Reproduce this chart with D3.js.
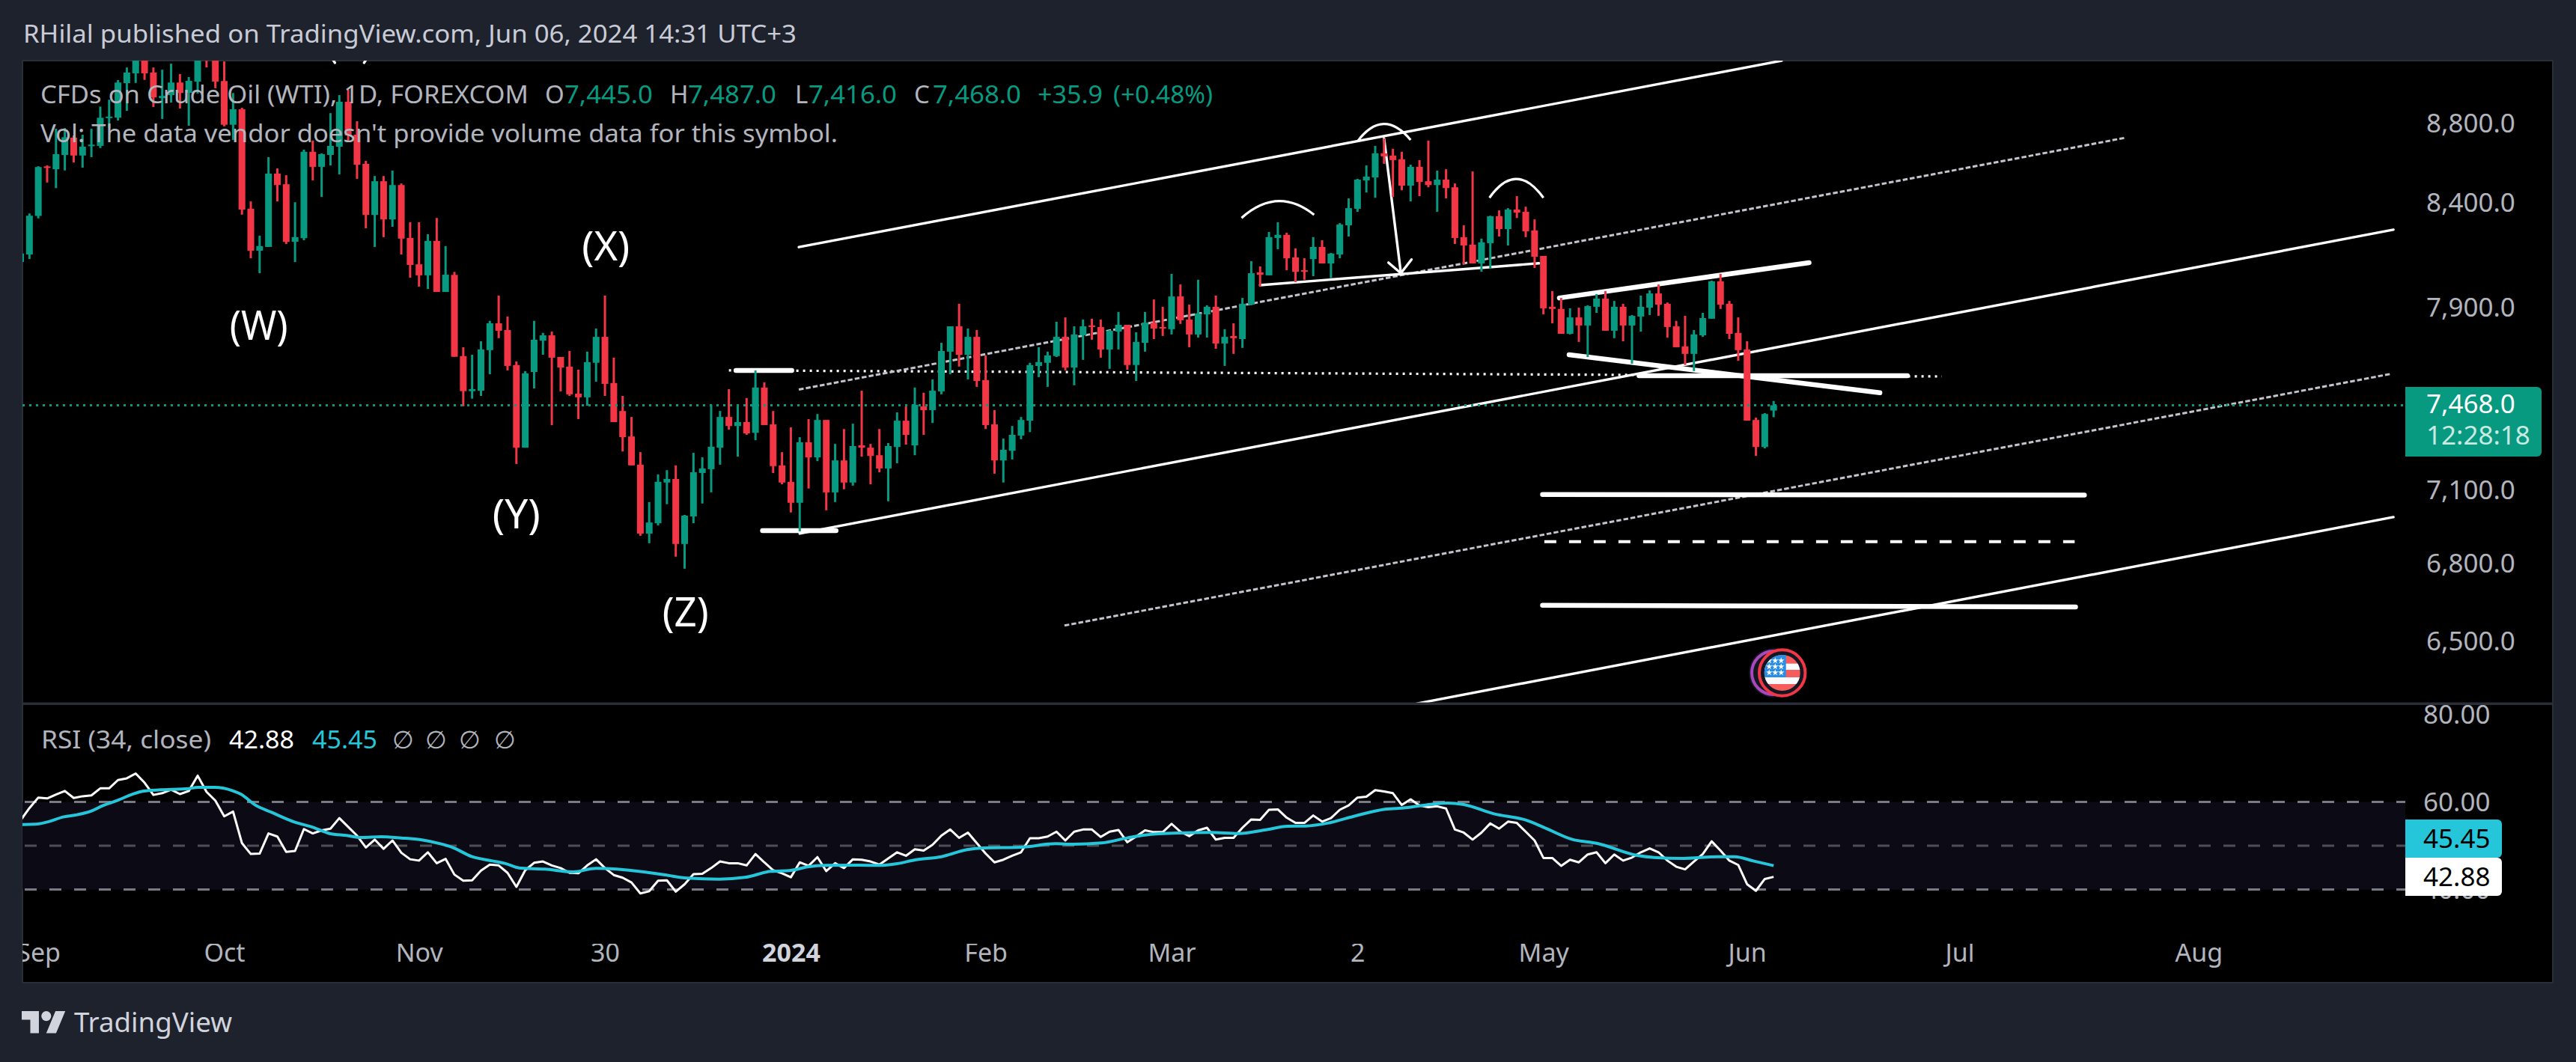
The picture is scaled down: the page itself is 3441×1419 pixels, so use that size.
<!DOCTYPE html>
<html><head><meta charset="utf-8">
<script src="https://cdnjs.cloudflare.com/ajax/libs/d3/7.8.5/d3.min.js"></script>
<style>html,body{margin:0;padding:0;background:#1e222d}svg{display:block}text{font-family:"Noto Sans",sans-serif}</style>
</head><body><svg id="c" width="3441" height="1419"></svg>
<script>
const opens=[8121,8157,8343,8588,8574,8646,8734,8643,8691,8692,
8835,8837,9017,9069,9160,9073,8938,8954,9020,8966,
9025,9221,9160,9028,8800,8880,8378,8175,8193,8552,
8499,8218,8235,8662,8586,8646,8688,8919,8749,8601,
8348,8514,8326,8495,8236,8110,8058,8222,7980,8060,
7686,7530,7532,7713,7835,7804,7646,7285,7615,7756,
7780,7682,7639,7519,7503,7656,7773,7566,7443,7333,
7213,6928,6970,7138,7153,6886,6998,7178,7194,7285,
7417,7378,7395,7349,7546,7385,7210,7141,7054,7308,
7244,7404,7097,7231,7138,7295,7285,7253,7197,7288,
7401,7295,7463,7447,7529,7706,7821,7692,7773,7579,
7385,7231,7272,7337,7401,7642,7656,7686,7773,7635,
7780,7825,7818,7716,7797,7828,7646,7746,7838,7818,
7808,7959,7852,7784,7876,7911,7743,7777,7763,7921,
8072,8058,8236,8251,8143,8082,8135,8193,8114,8157,
8297,8378,8518,8533,8654,8643,8624,8492,8586,8514,
8495,8522,8484,8240,8204,8114,8211,8341,8279,8374,
8363,8272,8150,7911,7901,7787,7862,7825,7911,7949,
7801,7911,7825,7866,7907,7973,7925,7821,7730,7696,
7780,7856,8030,7925,7791,7716,7404,7288,7445];
const highs=[8161,8355,8589,8593,8780,8783,8745,8749,8779,8894,
8930,9033,9100,9180,9180,9100,9088,9120,9065,9049,
9180,9241,9180,9132,8965,8888,8414,8247,8635,8578,
8544,8410,8673,8719,8654,8860,8954,8982,8818,8616,
8540,8540,8567,8503,8312,8312,8254,8333,8197,8074,
7726,7692,7753,7846,7963,7866,7662,7619,7846,7791,
7797,7682,7709,7625,7706,7811,7963,7679,7509,7417,
7266,7057,7172,7190,7210,7004,7263,7244,7470,7443,
7539,7470,7500,7622,7569,7443,7266,7372,7330,7408,
7430,7404,7301,7365,7388,7532,7301,7365,7305,7437,
7463,7546,7523,7582,7746,7821,7925,7811,7804,7689,
7447,7324,7378,7417,7656,7726,7706,7842,7862,7821,
7852,7856,7852,7804,7887,7828,7794,7887,7945,7911,
8065,8015,7921,8037,7918,7963,7808,7835,7952,8125,
8100,8265,8312,8261,8186,8139,8240,8225,8164,8308,
8429,8526,8593,8692,8730,8677,8662,8597,8620,8719,
8567,8574,8503,8297,8563,8233,8344,8370,8381,8440,
8388,8326,8150,7984,7952,7904,7907,7918,7970,7984,
7938,7925,7873,7963,7987,8015,7931,7846,7869,7804,
7883,8033,8065,7938,7862,7753,7414,7434,7487];
const lows=[8121,8135,8331,8508,8480,8568,8608,8582,8635,8681,
8783,8822,8872,9018,9034,8892,8830,8915,8884,8795,
8962,9100,8990,8792,8722,8349,8139,8068,8193,8414,
8207,8121,8225,8518,8436,8593,8548,8711,8526,8283,
8193,8240,8290,8157,8047,8005,7994,7980,7980,7683,
7464,7497,7509,7605,7767,7622,7216,7285,7542,7692,
7382,7529,7509,7408,7466,7572,7509,7395,7269,7210,
6919,6889,6961,7048,6835,6787,6970,7051,7097,7213,
7362,7247,7340,7317,7382,7178,7131,7014,6937,7113,
7228,7023,7057,7110,7125,7247,7131,7181,7060,7219,
7298,7253,7340,7391,7516,7605,7639,7582,7549,7365,
7175,7138,7235,7321,7352,7592,7549,7682,7622,7556,
7669,7760,7679,7629,7716,7625,7575,7706,7763,7777,
7784,7832,7726,7770,7770,7719,7642,7696,7723,7918,
8005,8058,8182,8082,8026,8037,8054,8114,8044,8139,
8243,8363,8458,8432,8601,8436,8469,8414,8440,8484,
8363,8429,8207,8110,8114,8075,8089,8243,8200,8333,
8240,8093,7876,7835,7787,7784,7750,7682,7883,7801,
7767,7753,7652,7797,7873,7869,7770,7726,7646,7619,
7773,7856,7901,7763,7665,7401,7250,7282,7416];
const closes=[8161,8344,8585,8581,8650,8736,8643,8688,8698,8836,
8842,9020,9073,9160,9069,8942,8950,9020,8965,9029,
9160,9172,9025,8800,8880,8374,8175,8197,8552,8495,
8217,8240,8662,8586,8650,8692,8919,8745,8597,8348,
8514,8326,8495,8233,8107,8058,8222,7980,8061,7683,
7530,7539,7716,7835,7801,7642,7285,7609,7760,7780,
7679,7635,7516,7503,7659,7773,7562,7395,7330,7210,
6928,6973,7141,7153,6886,7001,7181,7197,7289,7417,
7378,7395,7346,7546,7382,7207,7138,7054,7308,7244,
7404,7097,7231,7138,7292,7285,7250,7197,7292,7401,
7340,7470,7447,7532,7709,7821,7692,7773,7575,7382,
7231,7276,7340,7404,7646,7659,7689,7773,7635,7784,
7821,7818,7716,7801,7828,7646,7750,7838,7811,7811,
7959,7849,7784,7880,7911,7743,7773,7767,7925,8068,
8061,8240,8251,8139,8075,8075,8193,8114,8161,8301,
8381,8522,8537,8654,8639,8620,8492,8586,8511,8495,
8522,8480,8236,8200,8114,8215,8341,8279,8374,8359,
8268,8146,7904,7901,7787,7862,7825,7914,7949,7801,
7911,7825,7869,7911,7973,7921,7818,7726,7696,7784,
7859,8030,7921,7787,7713,7401,7288,7430,7468];
const rsi=[55.8,58.6,61,60.8,61.7,62.5,60.9,61.3,61.5,63.1,
63.1,65,65.4,66.5,64.4,61.6,62,62.8,61.8,62.5,
66,62.3,60.3,56.7,57.8,50.6,48.1,48.2,52.8,52.1,
48.6,48.8,53.8,52.8,53.5,53.9,56.3,54.3,52.3,49.6,
51.4,49.3,51.2,48.4,46.9,46.6,48.5,46,47,43.4,
42,42.1,44.3,45.7,45.5,43.8,40.6,44.4,46.1,46.4,
45.5,44.9,43.8,43.7,45.5,46.9,44.9,43.3,42.7,41.6,
39.1,39.6,42,42.1,39.5,41.2,43.5,43.6,44.9,46.4,
46,46,45.5,48.1,46.2,44.4,43.7,42.8,46.2,45.4,
47.4,44.2,46,44.9,46.9,46.8,46.4,45.7,47.1,48.5,
47.7,49.2,48.9,50.2,52.3,53.7,51.8,53,50.6,48.2,
46.2,46.8,47.7,48.5,51.7,51.7,52.1,53.2,51.2,53.2,
53.7,53.7,52,53.2,53.6,50.8,52.1,53.5,53.1,53.1,
55,53.2,52.2,53.5,54.1,51.4,51.8,51.8,54.1,56,
55.9,58.2,58.3,56.4,55.2,55.2,56.9,55.5,56.3,58.2,
59.2,61,61.2,62.7,62.4,62,59.3,60.6,59.2,58.8,
59,58.5,53.7,53,51.4,53,55.1,53.9,55.5,55.2,
53.2,51.2,47.2,47.2,45.4,46.8,46.2,48,48.5,46,
48,46.6,47.3,48.5,49.4,48.5,46.6,45.2,44.6,46.4,
48.1,51,48.9,46.6,45.6,41.2,39.7,42.4,42.88];
const rsiMaBars=[0,1.6,2.9,4.9,6.4,8,9.3,10.9,12.6,13.9,15.8,19,20,21.9,23.9,24.9,26.5,28.4,31,33,34.9,36.8,38.5,40.7,43,45.2,47.5,48.8,51,53.3,54.9,56.3,59.2,62.4,65,70.2,72.8,75.3,78.9,81.8,84.7,87,88.9,90.9,94.8,97,99,101,104,106.9,108.8,113,116.9,118.9,122.1,125,127,130.9,134.4,137.6,140.5,143.1,145.1,147.7,150.9,154.1,156.4,159.3,161.2,162.9,166.4,170,172.2,175.2,178.1,182.6,184.5,187.8,191.6,193.6,195.8,198];
const rsiMa=[54.84,54.9,55.36,56.61,57.07,57.92,59.17,60.31,61.74,62.48,62.76,63.05,63.33,63.33,62.59,61.74,59.29,57.58,55.36,54.22,52.79,52.34,51.88,52.05,51.77,51.37,50.4,49.6,47.49,46.52,45.84,44.93,44.64,44.02,44.81,44.07,43.33,42.59,42.36,42.76,44.13,44.36,45.16,45.5,45.56,45.5,45.9,46.75,47.49,49.09,49.49,49.66,50.46,50.34,50.63,51.77,52.45,52.91,53.02,52.79,53.59,54.44,54.5,55.19,56.89,58.32,58.66,59.46,59.74,59.46,57.29,55.87,54.05,51.48,50.51,47.78,47.32,47.09,47.49,47.49,46.47,45.45];
const priceTicks=[8800,8400,7900,7500,7100,6800,6500];
const rsiTicks=[80,60,40];
const rsiLevels=[60,50,40];
const timeBars=[2,23,45,66,87,109,130,151,172,195,219,246];
const timeLabels=["Sep","Oct","Nov","30","2024","Feb","Mar","2","May","Jun","Jul","Aug"];
const lastPrice=7468;
// drawing tools: [barA, priceA, barB, priceB]
const thinLines=[[87.9,8192,198.9,9136],[88,6928,268,8276],[157.7,6272,268,6995],[140,8012,171.5,8115],[154,8730,155.9,8068],[154.5,8118,155.9,8068],[157.1,8133,155.9,8068],[35.3,9140,35.5,9125],[39,9140,38.8,9125]];
const thickLines=[[173.8,7952,202,8118],[174.9,7692,210,7523],[80.8,7622,87.1,7622],[182.8,7598,213.1,7598],[83.8,6940,92.1,6940],[171.9,7088,233.1,7086],[171.9,6643,232.1,6637]];
const grayDashLines=[[87.9,7537,237.8,8734],[117.9,6565,267.8,7607]];
const whiteDotLines=[[80,7622,217,7595]];
const whiteDashLines=[[172.1,6895,232,6895]];
// arcs: [barStart, priceStart, barControl, priceControl, barEnd, priceEnd]
const arcs=[[137.9,8333,142,8491,146.1,8348],[151,8715,153.9,8890,157,8722],[165.9,8432,168.9,8620,172,8432]];
const waveLabels=["(W)","(X)","(Y)","(Z)"];
const waveBars=[26.9,66.1,56,75.1];
const wavePrices=[7825,8197,7007,6617];
const waveLens=[78,64,64,62];

const W=3441,H=1419,L=30,R=3213,T=81,DIV=940,BOT=1313,OUTR=3410;
const x=d3.scaleLinear().domain([0,198]).range([27.5,2369.2]);
const y=d3.scaleLog().domain([9136.5,6272.3]).range([T,DIV]);
const yr=d3.scaleLinear().domain([60,40]).range([1071.5,1188.5]);
const GREEN="#089981",RED="#f23645",GREY="#b2b5be";
const svg=d3.select("#c");
svg.append("rect").attr("width",W).attr("height",H).attr("fill","#1e222d");
svg.append("rect").attr("x",L).attr("y",T).attr("width",OUTR-L).attr("height",BOT-T).attr("fill","#000");
svg.append("path").attr("d",`M${L},${BOT}V${T}H${OUTR}V${BOT}H${L}`).attr("fill","none").attr("stroke","#2a2e39").attr("stroke-width",2);
const defs=svg.append("defs");
defs.append("clipPath").attr("id","pc").append("rect").attr("x",L).attr("y",T).attr("width",R-L).attr("height",DIV-T);
defs.append("clipPath").attr("id","rc").append("rect").attr("x",L).attr("y",DIV).attr("width",R-L).attr("height",BOT-DIV);
defs.append("clipPath").attr("id","tc2").append("rect").attr("x",L).attr("y",0).attr("width",OUTR-L).attr("height",80);
defs.append("clipPath").attr("id","flag").append("circle").attr("cx",2380.7).attr("cy",899).attr("r",24);

const bars=d3.range(opens.length).map(i=>({i,o:opens[i],h:highs[i],l:lows[i],c:closes[i]}));
const plot=svg.append("g").attr("clip-path","url(#pc)");
function segs(data,stroke,width,dash,cap){
  plot.append("g").selectAll("line").data(data).join("line")
    .attr("x1",d=>x(d[0])).attr("y1",d=>y(d[1])).attr("x2",d=>x(d[2])).attr("y2",d=>y(d[3]))
    .attr("stroke",stroke).attr("stroke-width",width).attr("stroke-dasharray",dash||null).attr("stroke-linecap",cap||"butt");
}
segs(whiteDotLines,"#fff",3.2,"3 6");
segs(grayDashLines,"#c3c5cc",3,"6.5 3");
segs(thinLines,"#fff",3.4,null,"round");
segs(thickLines,"#fff",6.5,null,"round");
segs(whiteDashLines,"#fff",4,"16 17");
plot.append("g").selectAll("path").data(arcs).join("path")
  .attr("d",d=>`M${x(d[0])},${y(d[1])}Q${x(d[2])},${y(d[3])} ${x(d[4])},${y(d[5])}`)
  .attr("fill","none").attr("stroke","#fff").attr("stroke-width",3.2);
// candles
const cg=plot.append("g");
cg.selectAll("line").data(bars).join("line")
  .attr("x1",d=>x(d.i)).attr("x2",d=>x(d.i)).attr("y1",d=>y(d.h)).attr("y2",d=>y(d.l))
  .attr("stroke",d=>d.c>=d.o?GREEN:RED).attr("stroke-width",3);
cg.selectAll("rect").data(bars).join("rect")
  .attr("x",d=>x(d.i)-4.5).attr("width",9)
  .attr("y",d=>y(Math.max(d.o,d.c))).attr("height",d=>Math.max(2,Math.abs(y(d.o)-y(d.c))))
  .attr("fill",d=>d.c>=d.o?GREEN:RED);
// last price line
plot.append("line").attr("x1",L).attr("x2",R).attr("y1",y(lastPrice)).attr("y2",y(lastPrice))
  .attr("stroke",GREEN).attr("stroke-width",3).attr("stroke-dasharray","3 6");

function txt(s,px,py,o={}){
  const t=svg.append("text").attr("x",px).attr("y",py).text(s)
    .attr("font-size",o.size||34).attr("fill",o.fill||GREY).attr("font-weight",o.weight||400)
    .attr("text-anchor",o.anchor||"start");
  if(o.len)t.attr("textLength",o.len).attr("lengthAdjust","spacingAndGlyphs");
  return t;
}
// wave labels
waveLabels.forEach((s,i)=>{txt(s,x(waveBars[i]),y(wavePrices[i])+19,{size:54,fill:"#fff",anchor:"middle",len:waveLens[i]});});

// RSI pane
const rp=svg.append("g").attr("clip-path","url(#rc)");
rp.append("rect").attr("x",L).attr("width",R-L).attr("y",yr(60)).attr("height",yr(40)-yr(60)).attr("fill","#0c0a15");
rp.selectAll("line").data(rsiLevels).join("line")
  .attr("x1",L).attr("x2",R).attr("y1",d=>yr(d)).attr("y2",d=>yr(d))
  .attr("stroke",d=>d===50?"#4d4e56":"#787b86").attr("stroke-width",3).attr("stroke-dasharray","16 17").attr("stroke-dashoffset",-3);
rp.append("path").attr("d",d3.line().x((d,i)=>x(i)).y(d=>yr(d))(rsi)).attr("fill","none").attr("stroke","#fff").attr("stroke-width",3).attr("stroke-linejoin","round");
rp.append("path").attr("d",d3.line().x((d,i)=>x(rsiMaBars[i])).y(d=>yr(d)).curve(d3.curveMonotoneX)(rsiMa)).attr("fill","none").attr("stroke","#26c6da").attr("stroke-width",4);

// divider
svg.append("rect").attr("x",L).attr("y",938.5).attr("width",OUTR-L).attr("height",3.5).attr("fill","#2a2e39");

// axes
const pa=svg.append("g").attr("transform",`translate(3241,0)`)
  .call(d3.axisRight(y).tickValues(priceTicks).tickFormat(d3.format(",.1f")).tickSize(0).tickPadding(0));
pa.select(".domain").remove();
pa.selectAll("text").attr("font-size",35).attr("fill",GREY).attr("font-family",'"Noto Sans",sans-serif').attr("dy","0.27em");
const ra=svg.append("g").attr("transform",`translate(3237,0)`)
  .call(d3.axisRight(yr).tickValues(rsiTicks).tickFormat(d3.format(".2f")).tickSize(0).tickPadding(0));
ra.select(".domain").remove();
ra.selectAll("text").attr("font-size",35).attr("fill",GREY).attr("font-family",'"Noto Sans",sans-serif').attr("dy","0.33em");
const ta=svg.append("g").attr("transform",`translate(0,1261)`).attr("clip-path","url(#tc2)")
  .call(d3.axisBottom(x).tickValues(timeBars).tickFormat((d,i)=>timeLabels[i]).tickSize(0).tickPadding(0));
ta.select(".domain").remove();
ta.selectAll("text").attr("font-size",34).attr("fill",(d,i)=>timeLabels[i]==="2024"?"#d1d4dc":GREY)
  .attr("font-weight",(d,i)=>timeLabels[i]==="2024"?700:400).attr("font-family",'"Noto Sans",sans-serif');

// value labels
function box(px,py,w,h,fill){
  svg.append("path").attr("d",`M${px},${py}H${px+w-6}a6,6 0 0 1 6,6V${py+h-6}a6,6 0 0 1 -6,6H${px}Z`).attr("fill",fill);
}
box(R,517,182,93,GREEN);
txt(d3.format(",.1f")(lastPrice),3241,552,{size:35,fill:"#fff"});
txt("12:28:18",3241,594,{size:35,fill:"#c9e9e2"});
box(R,1095,129,51,"#26c6da");
box(R,1146,129,51,"#fff");
txt("45.45",3237,1133,{size:35,fill:"#000"});
txt("42.88",3237,1184,{size:35,fill:"#000"});

// legends
txt("RHilal published on TradingView.com, Jun 06, 2024 14:31 UTC+3",31,57,{size:33,fill:"#c9ccd6",len:1033});
txt("CFDs on Crude Oil (WTI), 1D, FOREXCOM",54,138,{size:33,len:652});
txt("Vol: The data vendor doesn't provide volume data for this symbol.",54,190,{size:33,len:1065});
[["O",728],["H",895],["L",1062],["C",1221]].forEach(d=>txt(d[0],d[1],138,{size:33}));
[["7,445.0",754],["7,487.0",919],["7,416.0",1080],["7,468.0",1246]].forEach(d=>txt(d[0],d[1],138,{size:33,fill:GREEN,len:118}));
txt("+35.9",1386,138,{size:33,fill:GREEN,len:87});
txt("(+0.48%)",1487,138,{size:33,fill:GREEN,len:133});
txt("RSI (34, close)",55,1000,{size:33,len:227});
txt("42.88",306,1000,{size:33,fill:"#fff",len:87});
txt("45.45",417,1000,{size:33,fill:"#26c6da",len:87});
[538,582,627,674].forEach(px=>txt("∅",px,1000,{size:33,anchor:"middle"}));

// TradingView logo
const logo=svg.append("g").attr("transform","translate(29,1344.5) scale(1.64)").attr("fill","#d1d4dc");
logo.append("path").attr("d","M14 22H7V11H0V4h14v18zM28 22h-8l7.5-18h8L28 22z");
logo.append("circle").attr("cx",20).attr("cy",8).attr("r",4);
txt("TradingView",99,1379,{size:36,fill:"#d1d4dc",len:211});

// event icon
const ic=svg.append("g");
ic.append("circle").attr("cx",2369).attr("cy",899).attr("r",33).attr("fill","#131722");
ic.append("circle").attr("cx",2369).attr("cy",899).attr("r",29).attr("fill","#131722").attr("stroke","#ab47bc").attr("stroke-width",4);
ic.append("circle").attr("cx",2380.7).attr("cy",899).attr("r",30.7).attr("fill","#131722").attr("stroke","#f23645").attr("stroke-width",4);
const fl=ic.append("g").attr("clip-path","url(#flag)");
fl.append("rect").attr("x",2356).attr("y",875).attr("width",50).attr("height",50).attr("fill","#f75c5c");
fl.append("rect").attr("x",2356).attr("y",886.7).attr("width",50).attr("height",8.3).attr("fill","#fafaff");
fl.append("rect").attr("x",2356).attr("y",905).attr("width",50).attr("height",9).attr("fill","#fafaff");
fl.append("rect").attr("x",2356).attr("y",875).attr("width",29.7).attr("height",30).attr("fill","#2a8ee6");
[882.7,890.7,898.7].forEach(sy=>[2363.3,2371.3,2379.3].forEach(sx=>{
  fl.append("path").attr("d",d3.symbol(d3.symbolStar,22)()).attr("transform",`translate(${sx},${sy})`).attr("fill","#fff");
}));
</script></body></html>
